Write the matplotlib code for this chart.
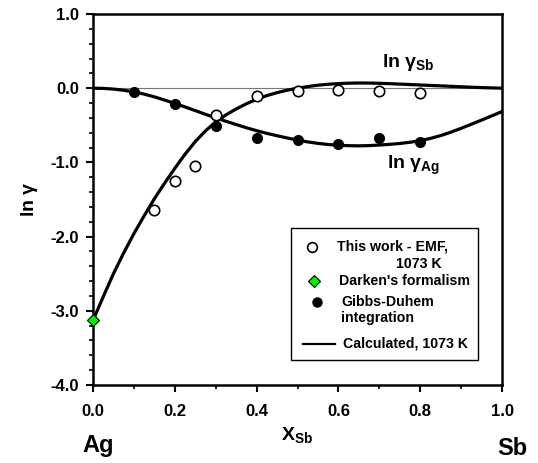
import numpy as np
import matplotlib
matplotlib.use('Agg')
import matplotlib.pyplot as plt
from matplotlib.ticker import MultipleLocator
from matplotlib.lines import Line2D
from matplotlib.patches import Rectangle

plt.rcParams['font.family'] = ['Liberation Sans', 'DejaVu Sans']
plt.rcParams['font.weight'] = 'bold'
plt.rcParams['mathtext.fontset'] = 'custom'
plt.rcParams['mathtext.rm'] = 'Liberation Sans:bold'
plt.rcParams['mathtext.it'] = 'Liberation Sans:bold'
plt.rcParams['mathtext.bf'] = 'Liberation Sans:bold'

# EMF measurements, ln gamma Sb
x_emf = [0.15, 0.2, 0.25, 0.3, 0.4, 0.5, 0.6, 0.7, 0.8]
y_emf = [-1.64, -1.25, -1.05, -0.36, -0.10, -0.04, -0.02, -0.04, -0.06]

# Gibbs-Duhem integration, ln gamma Ag
x_gd = [0.1, 0.2, 0.3, 0.4, 0.5, 0.6, 0.7, 0.8]
y_gd = [-0.045, -0.21, -0.51, -0.67, -0.70, -0.755, -0.665, -0.73]

# Darken's formalism
x_dk = [0.0]
y_dk = [-3.13]

# calculated curves
x_calc = [0.0, 0.025, 0.05, 0.075, 0.1, 0.125, 0.15, 0.175, 0.2, 0.225,
          0.25, 0.275, 0.3, 0.325, 0.35, 0.375, 0.4, 0.425, 0.45, 0.475,
          0.5, 0.525, 0.55, 0.575, 0.6, 0.625, 0.65, 0.675, 0.7, 0.725,
          0.75, 0.775, 0.8, 0.825, 0.85, 0.875, 0.9, 0.925, 0.95, 0.975, 1.0]
lnsb_calc = [-3.13, -2.81, -2.50, -2.22, -1.96, -1.72, -1.49, -1.28, -1.08, -0.89,
             -0.72, -0.575, -0.455, -0.36, -0.28, -0.21, -0.15, -0.10, -0.06, -0.027,
             0.0, 0.022, 0.04, 0.053, 0.062, 0.067, 0.07, 0.069, 0.066, 0.061,
             0.055, 0.049, 0.043, 0.037, 0.031, 0.025, 0.019, 0.013, 0.008, 0.004, 0.0]
lnag_calc = [0.0, -0.003, -0.012, -0.028, -0.05, -0.08, -0.117, -0.16, -0.205, -0.253,
             -0.302, -0.352, -0.40, -0.446, -0.49, -0.533, -0.573, -0.609, -0.641, -0.671,
             -0.699, -0.724, -0.744, -0.759, -0.769, -0.775, -0.777, -0.774, -0.766, -0.757,
             -0.745, -0.729, -0.707, -0.677, -0.639, -0.593, -0.541, -0.486, -0.43, -0.373, -0.315]

fig = plt.figure(figsize=(5.38, 4.63), dpi=100)
ax = fig.add_axes([0.1729, 0.1685, 0.7602, 0.8013])

ax.axhline(0, color='#777777', lw=0.8, zorder=1)
ax.plot(x_calc, lnsb_calc, color='black', lw=2.3, zorder=2, solid_joinstyle='round')
ax.plot(x_calc, lnag_calc, color='black', lw=2.3, zorder=2, solid_joinstyle='round')
ax.plot(x_emf, y_emf, 'o', mfc='white', mec='black', mew=1.2, ms=7.5, zorder=3, clip_on=False)
ax.plot(x_gd, y_gd, 'o', mfc='black', mec='black', ms=7, zorder=3, clip_on=False)
ax.plot(x_dk, y_dk, 'D', mfc='#00ee00', mec='black', mew=0.8, ms=6.5, zorder=4, clip_on=False)

ax.set_xlim(0, 1)
ax.set_ylim(-4, 1)
ax.xaxis.set_major_locator(MultipleLocator(0.2))
ax.xaxis.set_minor_locator(MultipleLocator(0.1))
ax.yaxis.set_major_locator(MultipleLocator(1.0))
ax.yaxis.set_minor_locator(MultipleLocator(0.2))
ax.xaxis.set_major_formatter(plt.FormatStrFormatter('%.1f'))
ax.yaxis.set_major_formatter(plt.FormatStrFormatter('%.1f'))
ax.tick_params(which='major', length=5, width=1.5, labelsize=12)
ax.tick_params(axis='x', which='major', pad=9)
ax.tick_params(axis='y', which='major', pad=5)
ax.tick_params(which='minor', length=3, width=1.2)
for lab in ax.get_xticklabels() + ax.get_yticklabels():
    lab.set_fontweight('bold')
for s in ax.spines.values():
    s.set_linewidth(1.8)

ax.set_ylabel(r'ln $\gamma$', fontsize=14, fontweight='bold', labelpad=8)
ax.set_xlabel(r'X$_{Sb}$', fontsize=14, fontweight='bold', labelpad=4)

ax.text(0.707, 0.34, r'ln $\gamma_{Sb}$', fontsize=14, va='center')
ax.text(0.718, -1.04, r'ln $\gamma_{Ag}$', fontsize=14, va='center')

fig.text(98 / 538, 1 - 452 / 463, 'Ag', fontsize=17, ha='center', va='baseline')
fig.text(512 / 538, 1 - 455 / 463, 'Sb', fontsize=17, ha='center', va='baseline')

# legend drawn by hand, in axes coordinates
def ax_xy(px, py):
    return (px - 93) / 409, (385 - py) / 371

x0, y0 = ax_xy(291, 360)
x1, y1 = ax_xy(478, 228)
ax.add_patch(Rectangle((x0, y0), x1 - x0, y1 - y0, transform=ax.transAxes,
                       fill=False, ec='black', lw=1.0, zorder=5))

def leg_marker(px, py, **kw):
    lx, ly = ax_xy(px, py)
    ax.add_line(Line2D([lx], [ly], transform=ax.transAxes, zorder=6, **kw))

def leg_text(px, py, s, ha='left'):
    lx, ly = ax_xy(px, py)
    ax.text(lx, ly, s, transform=ax.transAxes, fontsize=10.2, va='center', ha=ha, zorder=6)

leg_marker(312, 247, marker='o', mfc='white', mec='black', mew=1.2, ms=7)
leg_text(337, 247, 'This work - EMF,')
leg_text(442, 264, '1073 K', ha='right')
leg_marker(314, 281, marker='D', mfc='#00ee00', mec='black', mew=0.8, ms=6)
leg_text(339, 281, "Darken's formalism")
leg_marker(317, 302, marker='o', mfc='black', mec='black', ms=6.5)
leg_text(341, 302, 'Gibbs-Duhem')
leg_text(341, 318, 'integration')
lx0, ly = ax_xy(303, 344)
lx1, _ = ax_xy(335, 344)
ax.add_line(Line2D([lx0, lx1], [ly, ly], transform=ax.transAxes, color='black', lw=1.6, zorder=6))
leg_text(343, 344, 'Calculated, 1073 K')

fig.savefig('out.png', dpi=100)
